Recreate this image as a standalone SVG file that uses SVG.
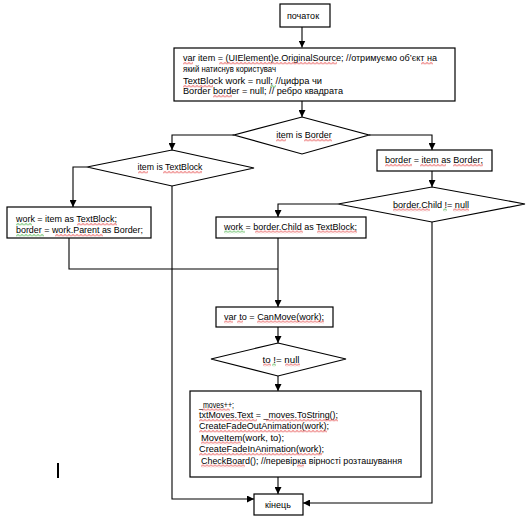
<svg xmlns="http://www.w3.org/2000/svg" width="532" height="524" viewBox="0 0 532 524">
<defs>
<marker id="ah" viewBox="0 0 10 10" refX="10" refY="5" markerWidth="7" markerHeight="7" markerUnits="userSpaceOnUse" orient="auto">
<path d="M0,0 L10,5 L0,10 z" fill="#000"/>
</marker>
<pattern id="sqr" width="4" height="3" patternUnits="userSpaceOnUse">
<path d="M0,2.5 L2,0.5 L4,2.5" fill="none" stroke="#e02020" stroke-width="0.9"/>
</pattern>
<pattern id="sqg" width="4" height="3" patternUnits="userSpaceOnUse">
<path d="M0,2.5 L2,0.5 L4,2.5" fill="none" stroke="#20a020" stroke-width="0.9"/>
</pattern>
</defs>
<style>
.n{fill:#fff;stroke:#000;stroke-width:1.2}
.t{font-family:"Liberation Sans",Arial,sans-serif;font-size:9px;fill:#000}
.c{text-anchor:middle}
.e{fill:none;stroke:#000;stroke-width:1.1}
.r{fill:url(#sqr)}
.g{fill:url(#sqg)}
</style>
<rect width="532" height="524" fill="#fff"/>
<g id="connectors">
<path class="e" d="M302,27 V47.5" marker-end="url(#ah)"/>
<path class="e" d="M302,101 V117" marker-end="url(#ah)"/>
<path class="e" d="M234,135 H172 V150" marker-end="url(#ah)"/>
<path class="e" d="M369,135 H432 V150" marker-end="url(#ah)"/>
<path class="e" d="M432,171 V187" marker-end="url(#ah)"/>
<path class="e" d="M338,204 H278 V217" marker-end="url(#ah)"/>
<path class="e" d="M87,167 H73 V207" marker-end="url(#ah)"/>
<path class="e" d="M278,238 V307" marker-end="url(#ah)"/>
<path class="e" d="M69,238 V269 H278"/>
<path class="e" d="M278,327 V343" marker-end="url(#ah)"/>
<path class="e" d="M278,376 V391" marker-end="url(#ah)"/>
<path class="e" d="M278,477 V494" marker-end="url(#ah)"/>
<path class="e" d="M172,186 V499 H254" marker-end="url(#ah)"/>
<path class="e" d="M432,222 V503 H303" marker-end="url(#ah)"/>
</g>
<g id="start">
<rect class="n" x="280" y="4" width="50" height="23"/>
<text class="t c" x="303" y="18.5">початок</text>
</g>
<g id="init">
<rect class="n" x="174" y="48" width="281" height="53"/>
<text class="t" x="183" y="61" textLength="254" lengthAdjust="spacingAndGlyphs">var item = (UIElement)e.OriginalSource; //отримуємо об’єкт на</text>
<text class="t" x="183" y="72" textLength="93" lengthAdjust="spacingAndGlyphs">який натиснув користувач</text>
<text class="t" x="183" y="84" textLength="139" lengthAdjust="spacingAndGlyphs">TextBlock work = null; //цифра чи</text>
<text class="t" x="183" y="94" textLength="160" lengthAdjust="spacingAndGlyphs">Border border = null; // ребро квадрата</text>
<rect class="r" transform="translate(183,61.8)" width="10" height="3"/>
<rect class="r" transform="translate(219,61.8)" width="118" height="3"/>
<rect class="r" transform="translate(421,61.8)" width="12" height="3"/>
<rect class="r" transform="translate(183,84.8)" width="30" height="3"/>
<rect class="g" transform="translate(270,84.8)" width="6" height="3"/>
<rect class="r" transform="translate(213,94.8)" width="19" height="3"/>
</g>
<g id="isBorder">
<polygon class="n" points="302,117 369,135 302,154 234,135"/>
<text class="t c" x="304" y="138">item is Border</text>
<rect class="r" transform="translate(276,138.8)" width="10" height="3"/>
<rect class="r" transform="translate(304,138.8)" width="28" height="3"/>
</g>
<g id="asBorder">
<rect class="n" x="377" y="150" width="115" height="21"/>
<text class="t c" x="434" y="163" textLength="98" lengthAdjust="spacingAndGlyphs">border = item as Border;</text>
<rect class="r" transform="translate(385,163.8)" width="27" height="3"/>
<rect class="r" transform="translate(420,163.8)" width="26" height="3"/>
<rect class="r" transform="translate(453,163.8)" width="30" height="3"/>
</g>
<g id="childNotNull">
<polygon class="n" points="432,187 525,204 432,222 338,204"/>
<text class="t c" x="431" y="207.5" textLength="76" lengthAdjust="spacingAndGlyphs">border.Child != null</text>
<rect class="r" transform="translate(393,208.3)" width="37" height="3"/>
<rect class="g" transform="translate(443,208.3)" width="4" height="3"/>
<rect class="r" transform="translate(453,208.3)" width="16" height="3"/>
</g>
<g id="isTextBlock">
<polygon class="n" points="172,150 254,168 172,186 87,167"/>
<text class="t c" x="170" y="170" textLength="65" lengthAdjust="spacingAndGlyphs">item is TextBlock</text>
<rect class="r" transform="translate(138,170.8)" width="10" height="3"/>
<rect class="r" transform="translate(163,170.8)" width="39" height="3"/>
</g>
<g id="asTextBlock">
<rect class="n" x="7" y="207" width="144" height="31"/>
<text class="t" x="16" y="222" textLength="101" lengthAdjust="spacingAndGlyphs">work = item as TextBlock;</text>
<text class="t" x="16" y="233" textLength="127" lengthAdjust="spacingAndGlyphs">border = work.Parent as Border;</text>
<rect class="g" transform="translate(16,222.8)" width="16" height="3"/>
<rect class="r" transform="translate(77,222.8)" width="40" height="3"/>
<rect class="g" transform="translate(16,233.8)" width="28" height="3"/>
<rect class="r" transform="translate(55,233.8)" width="48" height="3"/>
</g>
<g id="childAsTextBlock">
<rect class="n" x="216" y="217" width="150" height="21"/>
<text class="t" x="224" y="229.5" textLength="133" lengthAdjust="spacingAndGlyphs">work = border.Child as TextBlock;</text>
<rect class="g" transform="translate(224,230.3)" width="21" height="3"/>
<rect class="r" transform="translate(255,230.3)" width="48" height="3"/>
<rect class="r" transform="translate(317,230.3)" width="40" height="3"/>
</g>
<g id="canMove">
<rect class="n" x="216" y="307" width="117" height="20"/>
<text class="t" x="224" y="319.5" textLength="100" lengthAdjust="spacingAndGlyphs">var to = CanMove(work);</text>
<rect class="r" transform="translate(224,320.3)" width="9" height="3"/>
<rect class="r" transform="translate(237,320.3)" width="6" height="3"/>
<rect class="r" transform="translate(257,320.3)" width="67" height="3"/>
</g>
<g id="toNotNull">
<polygon class="n" points="278,343 346,359 278,376 211,359"/>
<text class="t c" x="281" y="362.5" textLength="37" lengthAdjust="spacingAndGlyphs">to != null</text>
<rect class="r" transform="translate(263,363.3)" width="8" height="3"/>
<rect class="g" transform="translate(272,363.3)" width="4" height="3"/>
<rect class="r" transform="translate(285,363.3)" width="15" height="3"/>
</g>
<g id="doMove">
<rect class="n" x="190" y="391" width="231" height="86"/>
<text class="t" x="199" y="407.5" textLength="35" lengthAdjust="spacingAndGlyphs">_moves++;</text>
<text class="t" x="199" y="418" textLength="139" lengthAdjust="spacingAndGlyphs">txtMoves.Text = _moves.ToString();</text>
<text class="t" x="199" y="429" textLength="130" lengthAdjust="spacingAndGlyphs">CreateFadeOutAnimation(work);</text>
<text class="t" x="201" y="440.5" textLength="83" lengthAdjust="spacingAndGlyphs">MoveItem(work, to);</text>
<text class="t" x="199" y="452" textLength="125" lengthAdjust="spacingAndGlyphs">CreateFadeInAnimation(work);</text>
<text class="t" x="201" y="463.5" textLength="201" lengthAdjust="spacingAndGlyphs">CheckBoard(); //перевірка вірності розташування</text>
<rect class="r" transform="translate(202,408.3)" width="28" height="3"/>
<rect class="r" transform="translate(199,418.8)" width="58" height="3"/>
<rect class="r" transform="translate(266,418.8)" width="72" height="3"/>
<rect class="r" transform="translate(199,429.8)" width="128" height="3"/>
<rect class="r" transform="translate(201,441.3)" width="40" height="3"/>
<rect class="r" transform="translate(199,452.8)" width="123" height="3"/>
<rect class="r" transform="translate(201,464.3)" width="44" height="3"/>
<rect class="r" transform="translate(297,464.3)" width="7" height="3"/>
</g>
<g id="end">
<rect class="n" x="254" y="494" width="49" height="21"/>
<text class="t c" x="278" y="507.5">кінець</text>
</g>
<line x1="58" y1="463" x2="58" y2="478" stroke="#000" stroke-width="2"/>
</svg>
